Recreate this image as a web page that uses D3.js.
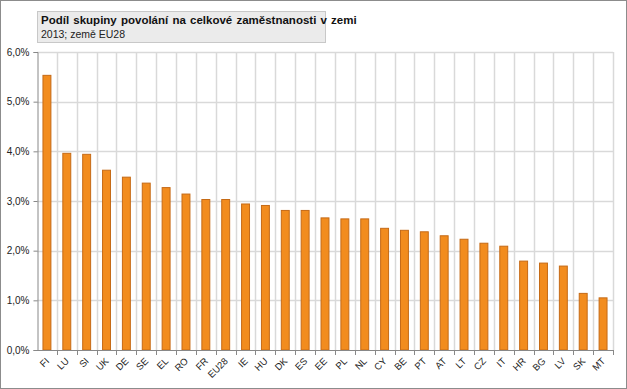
<!DOCTYPE html>
<html>
<head>
<meta charset="utf-8">
<script src="https://cdn.jsdelivr.net/npm/d3@7"></script>
<style>
  body { margin: 0; background: #fff; }
  svg { display: block; font-family: "Liberation Sans", Arial, sans-serif; }
</style>
</head>
<body>
<div id="chart"></div>
<script>
// data
const countries = ['FI', 'LU', 'SI', 'UK', 'DE', 'SE', 'EL', 'RO', 'FR', 'EU28', 'IE', 'HU', 'DK', 'ES',
  'EE', 'PL', 'NL', 'CY', 'BE', 'PT', 'AT', 'LT', 'CZ', 'IT', 'HR', 'BG', 'LV', 'SK', 'MT'];
const shares = [5.54, 3.97, 3.95, 3.63, 3.49, 3.37, 3.28, 3.15, 3.04, 3.04, 2.95, 2.92, 2.82, 2.82,
  2.67, 2.65, 2.65, 2.46, 2.42, 2.39, 2.31, 2.24, 2.16, 2.10, 1.80, 1.76, 1.70, 1.15, 1.06];
const yTicks = [0, 1, 2, 3, 4, 5, 6];
const titleText = 'Podíl skupiny povolání na celkové zaměstnanosti v zemi';
const subtitleText = '2013; země EU28';

const width = 627;
const height = 389;
const margin = { top: 52, right: 14, bottom: 39, left: 37 };

const svg = d3.select('#chart')
  .append('svg')
  .attr('width', width)
  .attr('height', height);

// outer frame
svg.append('rect')
  .attr('x', 0.5).attr('y', 0.5)
  .attr('width', width - 1).attr('height', height - 1)
  .attr('fill', '#fff')
  .attr('stroke', '#8c8c8c');

const x = d3.scaleBand()
  .domain(countries)
  .range([margin.left, width - margin.right])
  .paddingInner(0.55)
  .paddingOuter(0.275);

const xBand = d3.scaleBand()
  .domain(countries)
  .range([margin.left, width - margin.right]);

const y = d3.scaleLinear()
  .domain([0, 6])
  .range([height - margin.bottom, margin.top]);

// horizontal grid
svg.append('g')
  .selectAll('line')
  .data(yTicks.slice(1))
  .enter().append('line')
  .attr('x1', margin.left)
  .attr('x2', width - margin.right)
  .attr('y1', d => Math.round(y(d)) + 0.5)
  .attr('y2', d => Math.round(y(d)) + 0.5)
  .attr('stroke', '#d9d9d9')
  .attr('stroke-width', 1.5);

// vertical grid at category boundaries
svg.append('g')
  .selectAll('line')
  .data(countries)
  .enter().append('line')
  .attr('x1', d => Math.round(xBand(d) + xBand.bandwidth()) + 0.5)
  .attr('x2', d => Math.round(xBand(d) + xBand.bandwidth()) + 0.5)
  .attr('y1', margin.top)
  .attr('y2', height - margin.bottom)
  .attr('stroke', '#d9d9d9')
  .attr('stroke-width', 1.5);

// bars
svg.append('g')
  .selectAll('rect')
  .data(countries)
  .enter().append('rect')
  .attr('x', (d, i) => x(d) + 0.5)
  .attr('y', (d, i) => y(shares[i]) + 0.5)
  .attr('width', x.bandwidth() - 1)
  .attr('height', (d, i) => y(0) - y(shares[i]) - 0.5)
  .attr('fill', '#f28c1e')
  .attr('stroke', '#c56a16')
  .attr('stroke-width', 1);

// y axis
const yAxis = d3.axisLeft(y)
  .tickValues(yTicks)
  .tickSize(4)
  .tickPadding(4)
  .tickFormat(d => d.toFixed(1).replace('.', ',') + '%');

const gy = svg.append('g')
  .attr('transform', `translate(${margin.left + 0.5},0)`)
  .call(yAxis);
gy.select('.domain').attr('stroke', '#888');
gy.selectAll('.tick line').attr('stroke', '#888');
gy.selectAll('.tick text')
  .attr('fill', '#222')
  .style('font-size', '10px');

// x axis, ticks at band boundaries
const xAxis = d3.axisBottom(xBand).tickSize(0).tickPadding(0);
const gx = svg.append('g')
  .attr('transform', `translate(0,${Math.round(y(0)) + 0.5})`)
  .call(xAxis);
gx.select('.domain').attr('stroke', '#888').attr('d', `M${margin.left},0H${width - margin.right}`);
gx.selectAll('.tick text')
  .attr('fill', '#222')
  .style('font-size', '9.5px')
  .attr('text-anchor', 'end')
  .attr('dx', '4')
  .attr('dy', '0')
  .attr('transform', 'translate(0,14) rotate(-45)');

svg.append('g')
  .selectAll('line')
  .data(countries)
  .enter().append('line')
  .attr('x1', d => Math.round(xBand(d) + xBand.bandwidth()) + 0.5)
  .attr('x2', d => Math.round(xBand(d) + xBand.bandwidth()) + 0.5)
  .attr('y1', Math.round(y(0)))
  .attr('y2', Math.round(y(0)) + 5)
  .attr('stroke', '#888');

// title box
const tb = svg.append('g');
tb.append('rect')
  .attr('x', 37.5).attr('y', 11.5)
  .attr('width', 288).attr('height', 31)
  .attr('fill', '#ebebeb')
  .attr('stroke', '#c8c8c8');
tb.append('text')
  .attr('x', 41).attr('y', 24)
  .style('font-size', '11.5px')
  .style('font-weight', 'bold')
  .style('word-spacing', '1px')
  .attr('fill', '#111')
  .text(titleText);
tb.append('text')
  .attr('x', 41).attr('y', 38)
  .style('font-size', '10.5px')
  .attr('fill', '#222')
  .text(subtitleText);
</script>
</body>
</html>
